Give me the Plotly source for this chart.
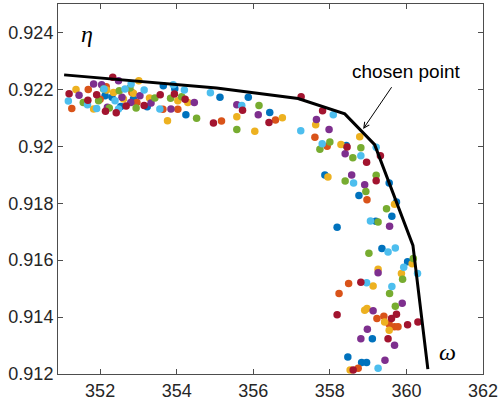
import plotly.graph_objects as go

# Pareto-front line (omega, eta)
front_x = [351.06, 355.04, 357.17, 358.39, 359.17, 360.17, 360.56]
front_y = [0.92251, 0.92205, 0.92168, 0.92114, 0.92006, 0.91652, 0.91217]

blue_x = [352.13, 352.31, 352.54, 352.87, 353.23, 353.65, 353.95, 354.24, 355.13, 355.87, 356.43,
          357.87, 358.43, 359.55, 358.76, 359.74, 359.62, 359.20, 358.19, 359.36, 360.03, 359.11,
          358.47, 358.83, 358.96]
blue_y = [0.92178, 0.92172, 0.92140, 0.92166, 0.92139, 0.92213, 0.92202, 0.92111, 0.92172, 0.92172, 0.92119,
          0.91899, 0.92003, 0.91871, 0.91827, 0.91804, 0.91754, 0.91737, 0.91716, 0.91641, 0.91594, 0.91324,
          0.91260, 0.91240, 0.91240]

orange_x = [351.26, 351.69, 352.00, 352.16, 352.83, 352.96, 353.64, 354.03, 355.17, 356.58, 357.61,
            357.93, 358.97, 358.49, 358.24, 359.23, 359.41, 359.55, 359.69, 359.78, 358.74]
orange_y = [0.92133, 0.92200, 0.92165, 0.92209, 0.92189, 0.92154, 0.92130, 0.92130, 0.92089, 0.92092, 0.92032,
            0.92000, 0.91812, 0.91518, 0.91483, 0.91395, 0.91403, 0.91375, 0.91366, 0.91366, 0.91220]

yellow_x = [351.37, 351.83, 352.17, 352.35, 352.61, 352.87, 353.01, 353.29, 353.76, 354.03, 354.29,
            355.57, 356.04, 356.76, 357.63, 358.29, 358.78, 357.95, 359.69, 360.15, 359.87, 359.26,
            359.13, 358.91, 358.97, 359.43, 359.55, 358.53]
yellow_y = [0.92200, 0.92131, 0.92198, 0.92189, 0.92166, 0.92186, 0.92230, 0.92170, 0.92090, 0.92160, 0.92154,
            0.92104, 0.92053, 0.92100, 0.92076, 0.92006, 0.92034, 0.91892, 0.91796, 0.91587, 0.91553, 0.91568,
            0.91509, 0.91424, 0.91430, 0.91383, 0.91354, 0.91214]

purple_x = [351.45, 351.83, 352.04, 352.19, 352.48, 352.57, 352.80, 353.04, 353.33, 353.85, 354.46,
            355.57, 356.13, 357.65, 357.98, 358.40, 358.57, 358.91, 359.56, 359.26, 359.89, 359.13,
            358.98, 358.81, 359.69, 359.44]
purple_y = [0.92179, 0.92219, 0.92216, 0.92137, 0.92230, 0.92172, 0.92154, 0.92178, 0.92152, 0.92131, 0.92154,
            0.92146, 0.92111, 0.92094, 0.92059, 0.91974, 0.91899, 0.91865, 0.91719, 0.91556, 0.91449, 0.91422,
            0.91357, 0.91324, 0.91301, 0.91248]

green_x = [351.56, 351.96, 352.09, 352.24, 352.50, 352.78, 352.94, 353.43, 353.84, 354.13, 354.52,
           355.57, 356.15, 357.74, 358.00, 358.60, 358.81, 358.40, 359.21, 358.94, 359.48, 359.26,
           359.02, 360.18, 359.90, 359.56, 359.71]
green_y = [0.92154, 0.92160, 0.92201, 0.92135, 0.92195, 0.92205, 0.92135, 0.92170, 0.92169, 0.92174, 0.92099,
           0.92059, 0.92143, 0.91990, 0.92015, 0.91960, 0.91995, 0.91878, 0.91898, 0.91841, 0.91781, 0.91734,
           0.91624, 0.91606, 0.91533, 0.91483, 0.91438]

cyan_x = [351.17, 351.67, 351.91, 352.39, 352.48, 352.65, 352.81, 353.15, 353.56, 353.91, 354.20,
          354.88, 355.70, 357.24, 358.09, 357.80, 358.81, 359.21, 358.62, 359.06, 359.52, 359.71,
          359.93, 360.29, 358.96, 359.62, 359.26, 352.10]
cyan_y = [0.92159, 0.92146, 0.92133, 0.92160, 0.92131, 0.92201, 0.92219, 0.92198, 0.92131, 0.92216, 0.92198,
          0.92188, 0.92143, 0.92055, 0.92111, 0.92009, 0.91967, 0.91997, 0.91871, 0.91738, 0.91629, 0.91643,
          0.91575, 0.91553, 0.91521, 0.91507, 0.91220, 0.92201]

red_x = [351.19, 351.68, 351.91, 352.14, 352.33, 352.42, 352.68, 353.15, 353.57, 353.94, 354.22,
         354.96, 355.72, 356.41, 357.25, 357.81, 358.45, 358.96, 359.32, 359.21, 358.81, 358.19,
         359.74, 359.61, 360.03, 360.30, 359.52, 358.61]
red_y = [0.92185, 0.92162, 0.92181, 0.92123, 0.92243, 0.92118, 0.92142, 0.92143, 0.92181, 0.92184, 0.92165,
         0.92082, 0.92127, 0.92084, 0.92174, 0.92125, 0.91998, 0.91944, 0.91967, 0.91879, 0.91522, 0.91408,
         0.91410, 0.91395, 0.91373, 0.91383, 0.91324, 0.91214]

x_ticks = [352, 354, 356, 358, 360, 362]
y_ticks = [0.912, 0.914, 0.916, 0.918, 0.920, 0.922, 0.924]
y_tick_text = ["0.912", "0.914", "0.916", "0.918", "0.92", "0.922", "0.924"]

series = [
    (blue_x, blue_y, "#0072BD"),
    (orange_x, orange_y, "#D95319"),
    (yellow_x, yellow_y, "#EDB120"),
    (purple_x, purple_y, "#7E2F8E"),
    (green_x, green_y, "#77AC30"),
    (cyan_x, cyan_y, "#4DBEEE"),
    (red_x, red_y, "#A2142F"),
]

fig = go.Figure()
for xs, ys, c in series:
    fig.add_trace(go.Scatter(x=xs, y=ys, mode="markers",
                             marker=dict(color=c, size=7.5, line=dict(width=0)),
                             showlegend=False, hoverinfo="skip"))
fig.add_trace(go.Scatter(x=front_x, y=front_y, mode="lines",
                         line=dict(color="black", width=3), showlegend=False))

axis_common = dict(showgrid=False, zeroline=False, showline=True, linecolor="#4d4d4d",
                   linewidth=1, mirror="ticks", ticks="inside", ticklen=5, tickwidth=1,
                   automargin=False,
                   tickcolor="#4d4d4d", tickfont=dict(family="Liberation Sans, Arial", size=18,
                                                      color="#262626"))
fig.update_xaxes(range=[350.9, 362], tickvals=x_ticks, **axis_common)
fig.update_yaxes(range=[0.912, 0.925], tickvals=y_ticks, ticktext=y_tick_text, **axis_common)

fig.add_annotation(x=358.87, y=0.92061, ax=359.64, ay=0.92213, axref="x", ayref="y",
                   xref="x", yref="y", text="", showarrow=True, arrowhead=5,
                   arrowsize=1.1, arrowwidth=1, arrowcolor="black")
fig.add_annotation(x=360.0, y=0.92262, xref="x", yref="y", text="chosen point",
                   showarrow=False, font=dict(family="Liberation Sans, Arial", size=19, color="black"))
fig.add_annotation(x=351.66, y=0.92395, xref="x", yref="y", text="<i>η</i>",
                   showarrow=False, font=dict(family="Liberation Serif", size=24, color="black"))
fig.add_annotation(x=361.08, y=0.91277, xref="x", yref="y", text="<i>ω</i>",
                   showarrow=False, font=dict(family="Liberation Serif", size=24, color="black"))

fig.update_layout(width=499, height=409, margin=dict(l=58, r=16, t=4, b=35),
                  plot_bgcolor="white", paper_bgcolor="white")
fig.write_html("out.html", config={"displayModeBar": False},
               post_script="document.body.style.margin='0';")
